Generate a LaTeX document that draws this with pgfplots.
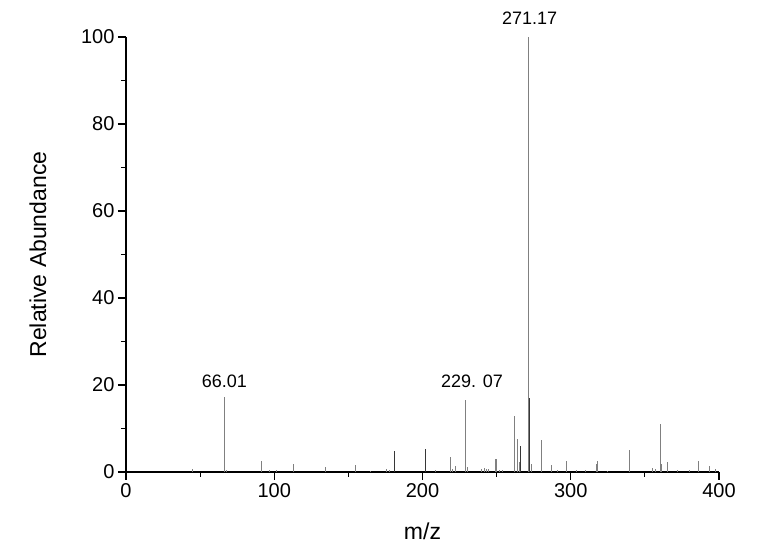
\documentclass[border=0pt]{standalone}
\usepackage{pgfplots}
\pgfplotsset{compat=1.18}
\usepackage{fontspec}
\setmainfont{Liberation Sans}
\definecolor{pk}{RGB}{128,128,128}
\definecolor{pkd}{RGB}{55,55,55}
\begin{document}
\begin{tikzpicture}
\path (-126pt,-84pt) rectangle (641pt,472pt);
\begin{axis}[
  at={(0pt,0pt)}, anchor=south west,
  scale only axis, width=593pt, height=435pt,
  xmin=0, xmax=400, ymin=0, ymax=100,
  axis lines=left, axis line style={-, line width=1.6pt, black},
  xtick={0,100,200,300,400}, minor xtick={50,150,250,350},
  ytick={0,20,40,60,80,100}, minor ytick={10,30,50,70,90},
  tick align=outside,
  major tick length=8pt, minor tick length=5pt,
  every tick/.style={black, line width=1.2pt},
  /pgf/number format/assume math mode=true,
  tick label style={font=\fontsize{20}{23}\selectfont},
  xlabel={m/z}, ylabel={Relative Abundance},
  label style={font=\fontsize{23}{26}\selectfont},
  xlabel style={yshift=-18pt},
  ylabel style={yshift=28pt},
  clip=false,
]
\addplot[ycomb, pk, line width=0.9pt, mark=none] coordinates {
(45,0.8) (66.1,17.3) (67.9,0.4) (91.3,2.5) (96.7,0.5) (101.6,0.4) (112.9,1.8)
(134.2,1.2) (155.1,1.6) (164.6,0.3) (175.4,0.6) (178,0.5)
(209,0.4) (219,3.4) (220.3,0.8) (222.4,1.4) (229.1,16.6) (230.2,1.2)
(240,0.8) (241.5,0.9) (243,0.8) (244.2,0.7) (248.9,3.0) (250,3.1) (252,0.5) (254,0.4)
(261.9,12.9) (263.9,7.7) (265.1,2.4) (271.4,100) (273.4,1.8) (280.2,7.4)
(287.1,1.5) (291,0.5) (297.2,2.5) (304,0.4) (310,0.5) (317,1.9) (318.2,2.5) (325,0.3)
(339.3,5.1) (355,1.0) (357,0.6) (360.2,11.0) (361.1,1.9) (365.1,2.4) (372,0.4) (380,0.4)
(386.3,2.6) (393.5,1.4) (397.3,0.6)
};
\addplot[ycomb, pkd, line width=0.9pt, mark=none] coordinates {
(181,4.9) (201.9,5.2) (266.0,6.0) (271.8,17.0)
};
\node[anchor=south, font=\fontsize{18}{21}\selectfont, inner sep=0pt] at (axis cs:66.4,19.3) {66.01};
\node[anchor=south, font=\fontsize{18}{21}\selectfont, inner sep=0pt] at (axis cs:233.4,19.3) {229. 07};
\node[anchor=south, font=\fontsize{18}{21}\selectfont, inner sep=0pt] at (axis cs:272.2,102.8) {271.17};
\end{axis}
\end{tikzpicture}
\end{document}
